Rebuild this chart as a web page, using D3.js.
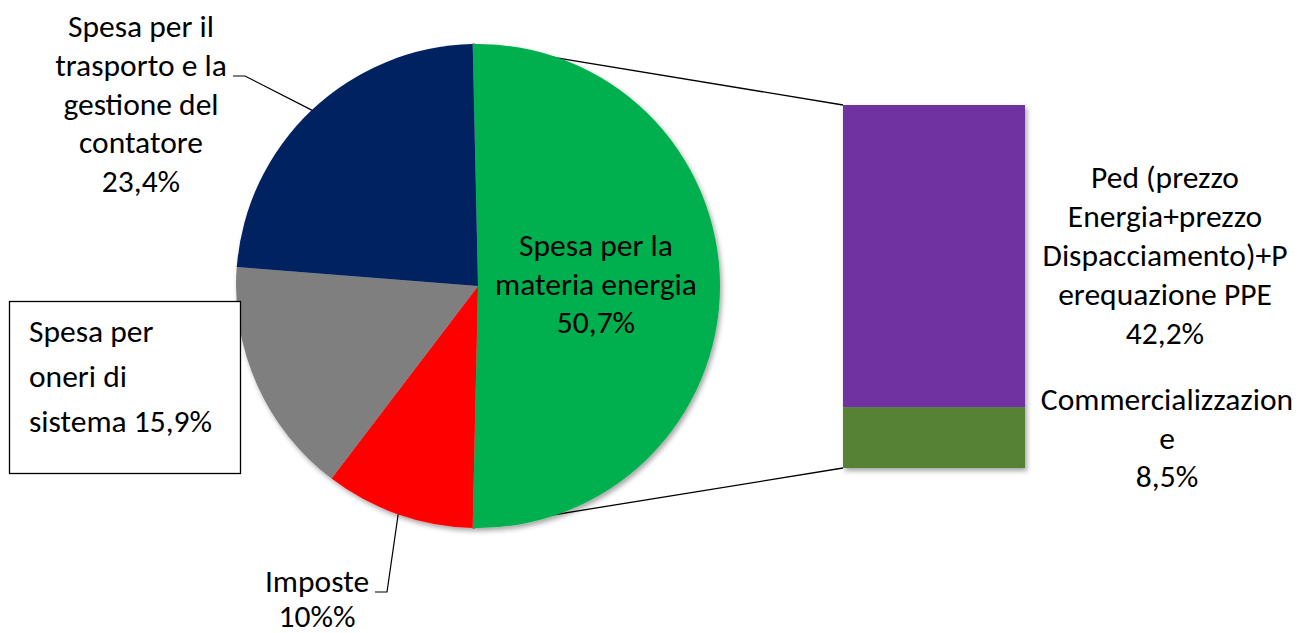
<!DOCTYPE html>
<html>
<head>
<meta charset="utf-8">
<script src="https://cdn.jsdelivr.net/npm/d3@7"></script>
<style>
  body { margin: 0; background: #fff; }
  svg text { font-family: Carlito, Calibri, Lato, sans-serif; fill: #000; }
</style>
</head>
<body>
<svg id="chart" width="1298" height="633"></svg>
<script>
// pie slices, clockwise from the split slice
const pieNames = ["Spesa per la materia energia", "Imposte", "Spesa per oneri di sistema", "Spesa per il trasporto e la gestione del contatore"];
const pieValues = [50.7, 10, 15.9, 23.4];
const pieLabelLines = [
  ["Spesa per la", "materia energia", "50,7%"],
  ["Imposte", "10%%"],
  ["Spesa per", "oneri di", "sistema 15,9%"],
  ["Spesa per il", "trasporto e la", "gestione del", "contatore", "23,4%"]
];

// breakdown of the split slice, bottom to top
const barNames = ["Commercializzazione", "Ped (prezzo Energia+prezzo Dispacciamento)+Perequazione PPE"];
const barValues = [8.5, 42.2];
const barLabelLines = [
  ["Commercializzazion", "e", "8,5%"],
  ["Ped (prezzo", "Energia+prezzo", "Dispacciamento)+P", "erequazione PPE", "42,2%"]
];

const pieColors = ["#00B050", "#FF0000", "#7F7F7F", "#002060"];
const barColors = ["#548235", "#7030A0"];

let svg = d3.select("#chart");

let cx = 478, cy = 286, radius = 242;
let barX = 843, barW = 182, barTop = 105, barBottom = 468;
let fontSize = 31.5;

// soft shadow like the office chart
let defs = svg.append("defs");
defs.append("filter")
  .attr("id", "shadow")
  .attr("x", "-10%").attr("y", "-10%")
  .attr("width", "120%").attr("height", "120%")
  .append("feDropShadow")
  .attr("dx", 2).attr("dy", 3)
  .attr("stdDeviation", 2.5)
  .attr("flood-color", "#000")
  .attr("flood-opacity", 0.35);

// split slice is centred on the right side
let total = d3.sum(pieValues);
let half = pieValues[0] / total * Math.PI;
let pie = d3.pie()
  .sort(null)
  .startAngle(Math.PI / 2 - half)
  .endAngle(Math.PI / 2 - half + 2 * Math.PI);
let slices = pie(pieValues);

let arc = d3.arc().innerRadius(0).outerRadius(radius);
let edgeArc = d3.arc().innerRadius(radius).outerRadius(radius);

function edgePoint(a) {
  return [cx + radius * Math.sin(a), cy - radius * Math.cos(a)];
}

// bar scale
let y = d3.scaleLinear()
  .domain([0, d3.sum(barValues)])
  .range([barBottom, barTop]);
let cum = d3.cumsum(barValues);
let barData = barValues.map((v, i) => ({ v: v, y0: cum[i] - v, y1: cum[i], i: i }));

// connector lines (under the pie)
let green = slices[0];
let p1 = edgePoint(green.startAngle);
let p2 = edgePoint(green.endAngle);
svg.append("line")
  .attr("x1", p1[0]).attr("y1", p1[1])
  .attr("x2", barX).attr("y2", y(d3.sum(barValues)))
  .attr("stroke", "#000").attr("stroke-width", 1.3);
svg.append("line")
  .attr("x1", p2[0]).attr("y1", p2[1])
  .attr("x2", barX).attr("y2", y(0))
  .attr("stroke", "#000").attr("stroke-width", 1.3);

// pie
let pieG = svg.append("g")
  .attr("transform", "translate(" + cx + "," + cy + ")")
  .attr("filter", "url(#shadow)");
pieG.selectAll("path")
  .data(slices)
  .enter()
  .append("path")
  .attr("d", arc)
  .style("fill", (d, i) => pieColors[i]);

// bar
let barG = svg.append("g").attr("filter", "url(#shadow)");
barG.selectAll("rect")
  .data(barData)
  .enter()
  .append("rect")
  .attr("x", barX)
  .attr("width", barW)
  .attr("y", d => y(d.y1))
  .attr("height", d => y(d.y0) - y(d.y1))
  .style("fill", d => barColors[d.i]);

// text helper
function addLines(x, y0, step, lines, anchor) {
  let t = svg.append("text")
    .attr("x", x)
    .attr("y", y0)
    .style("font-size", fontSize + "px")
    .style("text-anchor", anchor || "middle");
  lines.forEach((s, k) => {
    t.append("tspan").attr("x", x).attr("y", y0 + k * step).text(s);
  });
  return t;
}

// leader lines for the outside labels
let navyPt = edgeArc.centroid(slices[3]);
svg.append("polyline")
  .attr("points", [[233, 76], [245, 76], [cx + navyPt[0], cy + navyPt[1]]].join(" "))
  .attr("fill", "none").attr("stroke", "#000").attr("stroke-width", 1.2);
let redPt = edgeArc.centroid(slices[1]);
svg.append("polyline")
  .attr("points", [[375, 592], [387, 592], [cx + redPt[0], cy + redPt[1]]].join(" "))
  .attr("fill", "none").attr("stroke", "#000").attr("stroke-width", 1.2);

// labels
addLines(596, 256, 38.5, pieLabelLines[0]);
addLines(317, 592, 35, pieLabelLines[1]);
addLines(141, 37, 38.8, pieLabelLines[3]);

svg.append("rect")
  .attr("x", 9.5).attr("y", 301.5)
  .attr("width", 231).attr("height", 172)
  .attr("fill", "#fff").attr("stroke", "#000").attr("stroke-width", 1.3);
addLines(29, 342, 45, pieLabelLines[2], "start");

addLines(1165, 188, 39, barLabelLines[1]);
addLines(1167, 410, 38.5, barLabelLines[0]);
</script>
</body>
</html>
